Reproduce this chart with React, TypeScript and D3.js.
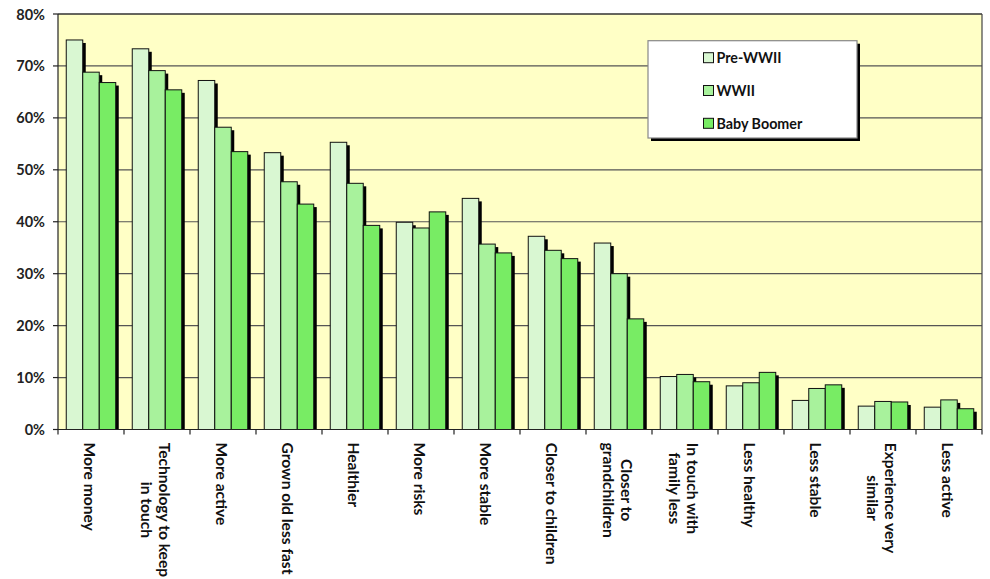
import React from 'react';
import * as d3 from 'd3';

// Survey categories (multi-line labels split on "\n")
const categories: string[] = [
  'More money',
  'Technology to keep\nin touch',
  'More active',
  'Grown old less fast',
  'Healthier',
  'More risks',
  'More stable',
  'Closer to children',
  'Closer to\ngrandchildren',
  'In touch with\nfamily less',
  'Less healthy',
  'Less stable',
  'Experience very\nsimilar',
  'Less active',
];

const seriesNames: string[] = ['Pre-WWII', 'WWII', 'Baby Boomer'];

// Percent of respondents per generation
const preWWII: number[] = [75.0, 73.3, 67.2, 53.3, 55.3, 39.9, 44.5, 37.2, 35.9, 10.2, 8.4, 5.6, 4.5, 4.3];
const wwii: number[] = [68.8, 69.1, 58.2, 47.7, 47.4, 38.8, 35.7, 34.5, 30.0, 10.6, 9.0, 7.9, 5.4, 5.7];
const babyBoomer: number[] = [66.8, 65.4, 53.5, 43.4, 39.3, 41.9, 34.0, 32.9, 21.3, 9.2, 11.0, 8.6, 5.3, 4.0];

const yTicks: number[] = [0, 10, 20, 30, 40, 50, 60, 70, 80];

const seriesValues = [preWWII, wwii, babyBoomer];
const seriesColors = ['#d9f7d2', '#a8f29c', '#78ec64'];

const W = 990;
const H = 579;
const plot = { left: 58, right: 982, top: 14, bottom: 429.5 };
const FONT = 'Lato, "DejaVu Sans", sans-serif';

let measureCtx: CanvasRenderingContext2D | null = null;
function textWidth(s: string, font: string): number {
  if (!measureCtx) {
    const c = document.createElement('canvas');
    measureCtx = c.getContext('2d');
  }
  if (!measureCtx) return s.length * 8;
  measureCtx.font = font;
  return measureCtx.measureText(s).width;
}

export default function App() {
  const x = d3
    .scaleBand<number>()
    .domain(categories.map((_, i) => i))
    .range([plot.left, plot.right])
    .padding(0);
  const xInner = d3
    .scaleBand<number>()
    .domain(seriesNames.map((_, i) => i))
    .range([0, x.bandwidth()])
    .paddingInner(0)
    .paddingOuter(0.5);
  const y = d3.scaleLinear().domain([0, 80]).range([plot.bottom, plot.top]);

  const labelSize = 15.6;
  const labelFont = `bold ${labelSize}px Lato`;
  const lineGap = 18.5;
  const shadow = 3;

  return (
    <svg
      width={W}
      height={H}
      style={{ position: 'absolute', left: 0, top: 0, background: '#ffffff' }}
      fontFamily={FONT}
    >
      <defs>
        <clipPath id="plotClip">
          <rect x={plot.left} y={0} width={plot.right - plot.left + 10} height={plot.bottom} />
        </clipPath>
      </defs>

      {/* plot background */}
      <rect
        x={plot.left}
        y={plot.top}
        width={plot.right - plot.left}
        height={plot.bottom - plot.top}
        fill="#ffffc6"
      />

      {/* gridlines */}
      {yTicks.map((t) => (
        <line
          key={'g' + t}
          x1={plot.left}
          x2={plot.right}
          y1={y(t)}
          y2={y(t)}
          stroke="#555"
          strokeWidth={1.2}
        />
      ))}

      {/* bars with drop shadows, drawn series by series */}
      <g clipPath="url(#plotClip)">
        {seriesValues.map((vals, s) => (
          <g key={'s' + s}>
            {vals.map((v, i) => {
              const bx = (x(i) as number) + (xInner(s) as number);
              const bw = xInner.bandwidth();
              const by = y(v);
              return (
                <g key={i}>
                  <rect
                    x={bx + shadow}
                    y={by + shadow}
                    width={bw}
                    height={plot.bottom - by}
                    fill="#000"
                  />
                  <rect
                    x={bx}
                    y={by}
                    width={bw}
                    height={plot.bottom - by}
                    fill={seriesColors[s]}
                    stroke="#111"
                    strokeWidth={1}
                  />
                </g>
              );
            })}
          </g>
        ))}
      </g>

      {/* plot frame */}
      <line x1={plot.left} x2={plot.right} y1={plot.top} y2={plot.top} stroke="#222" strokeWidth={1.2} />
      <line x1={plot.right} x2={plot.right} y1={plot.top} y2={plot.bottom} stroke="#444" strokeWidth={1.2} />

      {/* y axis */}
      <line x1={plot.left} x2={plot.left} y1={plot.top} y2={plot.bottom} stroke="#222" strokeWidth={1.2} />
      {yTicks.map((t) => (
        <g key={'yt' + t}>
          <line x1={plot.left - 5} x2={plot.left} y1={y(t)} y2={y(t)} stroke="#222" strokeWidth={1.2} />
          <text
            x={45}
            y={y(t)}
            textAnchor="end"
            dominantBaseline="central"
            fontSize={14.5}
            fontWeight="bold"
            fill="#222"
          >
            {t}%
          </text>
        </g>
      ))}

      {/* x axis */}
      <line x1={plot.left} x2={plot.right} y1={plot.bottom} y2={plot.bottom} stroke="#222" strokeWidth={1.2} />
      {categories.map((_, i) => (
        <line
          key={'xt' + i}
          x1={x(i) as number}
          x2={x(i) as number}
          y1={plot.bottom}
          y2={plot.bottom + 5}
          stroke="#222"
          strokeWidth={1.2}
        />
      ))}
      <line x1={plot.right} x2={plot.right} y1={plot.bottom} y2={plot.bottom + 5} stroke="#222" strokeWidth={1.2} />

      {/* rotated category labels */}
      {categories.map((c, i) => {
        const lines = c.split('\n');
        const maxW = d3.max(lines, (l) => textWidth(l, labelFont)) || 0;
        const cx = (x(i) as number) + x.bandwidth() / 2 - 1;
        return (
          <g key={'xl' + i} transform={`translate(${cx},${442.5}) rotate(90)`}>
            {lines.map((l, j) => (
              <text
                key={j}
                x={maxW / 2}
                y={(j - (lines.length - 1) / 2) * lineGap}
                textAnchor="middle"
                dominantBaseline="central"
                fontSize={labelSize}
                fontWeight="bold"
                fill="#111"
              >
                {l}
              </text>
            ))}
          </g>
        );
      })}

      {/* legend */}
      <g>
        <rect x={651} y={43.7} width={209} height={97.3} fill="#000" />
        <rect x={648} y={40.7} width={209} height={97.3} fill="#fff" stroke="#888" strokeWidth={1.2} />
        {seriesNames.map((n, s) => {
          const cy = 57.7 + s * 32.8;
          return (
            <g key={'lg' + s}>
              <rect x={703.5} y={cy - 5} width={10} height={10} fill={seriesColors[s]} stroke="#111" strokeWidth={1} />
              <text x={716.5} y={cy} dominantBaseline="central" fontSize={14.3} fontWeight="bold" fill="#111">
                {n}
              </text>
            </g>
          );
        })}
      </g>
    </svg>
  );
}
